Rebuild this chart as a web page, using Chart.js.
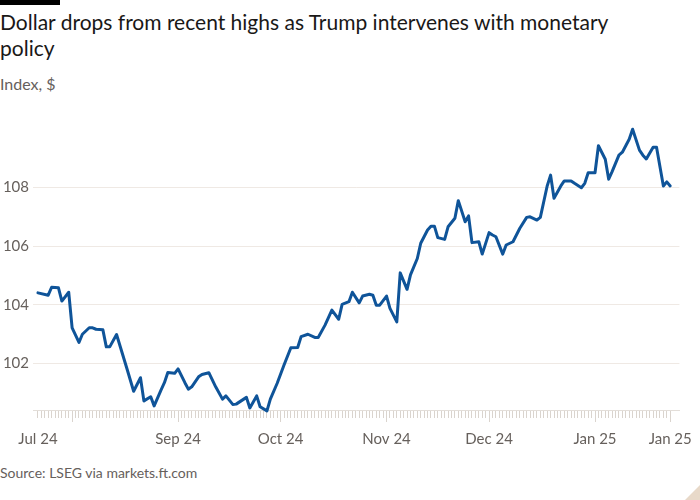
<!DOCTYPE html>
<html><head><meta charset="utf-8">
<script src="https://cdn.jsdelivr.net/npm/chart.js@4.4.1/dist/chart.umd.min.js"></script>
<style>
html,body{margin:0;padding:0;background:#fff;width:700px;height:500px;overflow:hidden;font-family:Lato,"Noto Sans",sans-serif;}
#bar{position:absolute;left:0;top:0;width:60px;height:5px;background:#000;}
#title{position:absolute;left:0;top:9px;width:640px;font-size:21px;line-height:26px;color:#1a1817;}
#sub{position:absolute;left:0;top:74px;font-size:16px;line-height:20px;color:#66605c;}
#wrap{position:absolute;left:0;top:110px;width:700px;height:350px;}
#source{position:absolute;left:0;top:464px;font-size:14px;line-height:18px;color:#66605c;}
#corner{position:absolute;right:0;bottom:0;width:0;height:0;border-left:15px solid transparent;border-bottom:15px solid #e8d9c9;}
</style></head>
<body>
<div id="bar"></div>
<div id="title">Dollar drops from recent highs as Trump intervenes with monetary policy</div>
<div id="sub">Index, $</div>
<div id="wrap"><canvas id="c" width="700" height="350"></canvas></div>
<div id="source">Source: LSEG via markets.ft.com</div>
<div id="corner"></div>
<script>
const dates = ["2024-07-22","2024-07-25","2024-07-26","2024-07-28","2024-07-29","2024-07-31","2024-08-01","2024-08-03","2024-08-04","2024-08-06","2024-08-07","2024-08-08","2024-08-10","2024-08-11","2024-08-12","2024-08-14","2024-08-17","2024-08-19","2024-08-21","2024-08-22","2024-08-24","2024-08-25","2024-08-27","2024-08-28","2024-08-29","2024-08-31","2024-09-01","2024-09-03","2024-09-04","2024-09-05","2024-09-07","2024-09-08","2024-09-10","2024-09-12","2024-09-14","2024-09-15","2024-09-17","2024-09-18","2024-09-21","2024-09-22","2024-09-24","2024-09-25","2024-09-27","2024-09-28","2024-09-30","2024-10-02","2024-10-04","2024-10-06","2024-10-07","2024-10-09","2024-10-11","2024-10-12","2024-10-14","2024-10-16","2024-10-18","2024-10-19","2024-10-21","2024-10-22","2024-10-24","2024-10-25","2024-10-27","2024-10-28","2024-10-29","2024-10-30","2024-11-01","2024-11-02","2024-11-04","2024-11-05","2024-11-07","2024-11-08","2024-11-10","2024-11-11","2024-11-13","2024-11-14","2024-11-15","2024-11-16","2024-11-18","2024-11-19","2024-11-21","2024-11-22","2024-11-24","2024-11-25","2024-11-26","2024-11-28","2024-11-29","2024-12-01","2024-12-02","2024-12-03","2024-12-05","2024-12-06","2024-12-08","2024-12-10","2024-12-12","2024-12-13","2024-12-15","2024-12-16","2024-12-18","2024-12-19","2024-12-20","2024-12-22","2024-12-23","2024-12-25","2024-12-26","2024-12-28","2024-12-29","2024-12-30","2025-01-01","2025-01-02","2025-01-04","2025-01-05","2025-01-06","2025-01-08","2025-01-09","2025-01-11","2025-01-12","2025-01-14","2025-01-15","2025-01-16","2025-01-18","2025-01-19","2025-01-21","2025-01-22","2025-01-23"];

const values = [104.41,104.33,104.60,104.58,104.13,104.43,103.22,102.72,103.00,103.22,103.22,103.17,103.15,102.57,102.57,102.99,101.84,101.06,101.52,100.73,100.87,100.56,101.10,101.35,101.70,101.67,101.82,101.35,101.13,101.21,101.55,101.63,101.69,101.21,100.79,100.90,100.61,100.62,100.85,100.49,100.90,100.53,100.39,100.79,101.33,101.95,102.54,102.55,102.92,103.00,102.89,102.89,103.31,103.82,103.51,104.02,104.11,104.43,104.07,104.30,104.36,104.33,103.99,103.99,104.30,103.88,103.42,105.09,104.53,105.02,105.58,106.10,106.55,106.68,106.68,106.29,106.23,106.66,106.95,107.55,106.83,107.03,106.12,106.15,105.73,106.46,106.38,106.32,105.73,106.04,106.15,106.61,106.98,107.00,106.89,106.98,108.05,108.42,107.63,108.05,108.22,108.22,108.14,107.99,108.14,108.50,108.50,109.42,108.96,108.28,108.54,109.10,109.20,109.64,109.98,109.27,109.10,108.97,109.37,109.37,108.05,108.19,108.05];

const yTicks = [102, 104, 106, 108];
const tickDates = ["2024-07-22","2024-09-01","2024-10-01","2024-11-01","2024-12-01","2025-01-01","2025-01-23"];
const tickLabels = ["Jul 24","Sep 24","Oct 24","Nov 24","Dec 24","Jan 25","Jan 25"];
const majorTickDates = ["2024-08-01","2024-09-01","2024-10-01","2024-11-01","2024-12-01","2025-01-01","2025-01-23"];

const base = Date.parse(dates[0] + "T00:00:00Z");
const dayOf = s => Math.round((Date.parse(s + "T00:00:00Z") - base) / 864e5);
const lastDay = dayOf(dates[dates.length - 1]);
const labelMap = {};
tickDates.forEach((d, i) => { labelMap[dayOf(d)] = tickLabels[i]; });
const majorSet = new Set(majorTickDates.map(dayOf));
const axisFont = {family: "Lato, 'Noto Sans', sans-serif", size: 15};

new Chart(document.getElementById("c"), {
  type: "line",
  data: {
    datasets: [{
      data: dates.map((d, i) => ({x: dayOf(d), y: values[i]})),
      borderColor: "#0f5499",
      borderWidth: 3,
      pointRadius: 0,
      tension: 0,
      clip: false,
      borderJoinStyle: "round",
      borderCapStyle: "round"
    }]
  },
  options: {
    responsive: false,
    animation: false,
    events: [],
    layout: {padding: {top: 19, right: 17, left: 0, bottom: 0}},
    plugins: {legend: {display: false}, tooltip: {enabled: false}},
    scales: {
      x: {
        type: "linear",
        min: -1.45,
        max: 187.7,
        afterBuildTicks: s => {
          const t = [];
          for (let d = 0; d <= lastDay; d++) t.push({value: d});
          s.ticks = t;
        },
        afterFit: s => { s.height = 50; },
        grid: {
          display: true,
          drawOnChartArea: false,
          drawTicks: true,
          tickLength: 12,
          tickColor: "#dad4ce",
          lineWidth: 1,
          tickBorderDash: c => (c.tick && majorSet.has(c.tick.value)) ? [] : [7, 40]
        },
        border: {display: true, color: "#e3ded9", width: 1},
        ticks: {
          autoSkip: false,
          maxRotation: 0,
          padding: 8,
          color: "#66605c",
          font: axisFont,
          callback: v => (labelMap[v] !== undefined ? labelMap[v] : "")
        }
      },
      y: {
        min: 100.42,
        max: 109.99,
        afterBuildTicks: s => { s.ticks = yTicks.map(v => ({value: v})); },
        afterFit: s => { s.width = 33; },
        grid: {color: "#efe9e4", drawTicks: false, lineWidth: 1},
        border: {display: false},
        ticks: {padding: 4, color: "#66605c", font: axisFont}
      }
    }
  }
});
</script>
</body></html>
